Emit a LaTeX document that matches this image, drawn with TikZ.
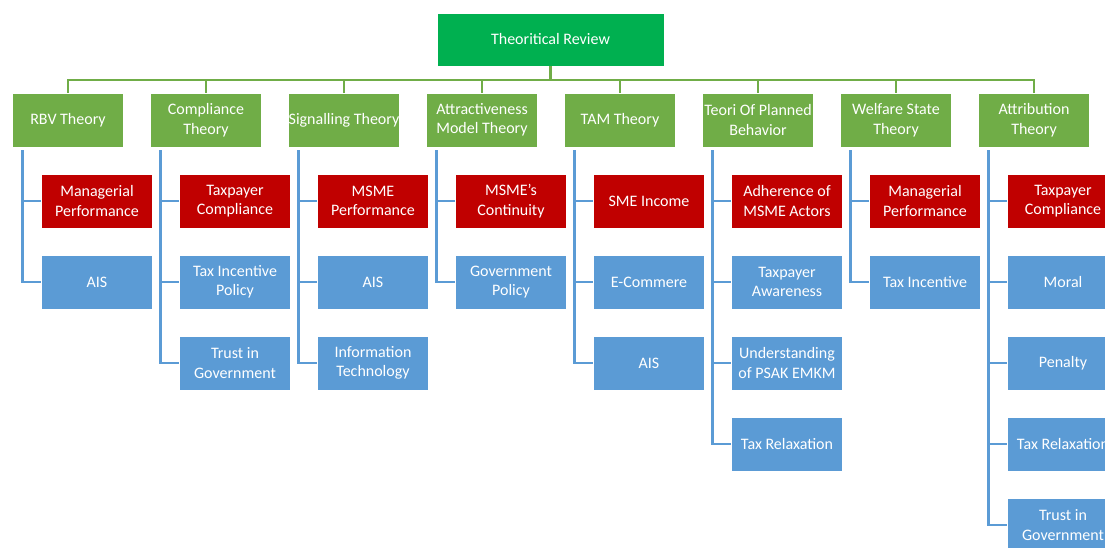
\documentclass[tikz,border=0pt]{standalone}
\usepackage{fontspec}
\setmainfont{Carlito}
\usetikzlibrary{positioning}
\definecolor{rootgreen}{HTML}{00B050}
\definecolor{theorygreen}{HTML}{70AD47}
\definecolor{outcomered}{HTML}{C00000}
\definecolor{factorblue}{HTML}{5B9BD5}
\tikzset{
  box/.style={draw=white, line width=0.8pt, text=white, minimum width=111pt,
    minimum height=54pt, inner sep=0pt, align=center,
    font=\fontsize{16}{19.5}\selectfont},
  root/.style={box, fill=rootgreen, minimum width=227pt, minimum height=53pt},
  theory/.style={box, fill=theorygreen},
  outcome/.style={box, fill=outcomered},
  factor/.style={box, fill=factorblue},
  bus/.style={draw=theorygreen, line width=2.5pt},
  link/.style={draw=factorblue, line width=2.5pt}
}
\begin{document}
\begin{tikzpicture}[x=1pt,y=-1pt]
\useasboundingbox (0,0) rectangle (1105,548);
\node[root] (review) at (550.5,39.5) {Theoritical Review};
\coordinate (hub) at (550.5,80);
% theories
\node[theory] (rbv) at (68,120) {RBV Theory};
\node[theory] (comp) at (206,120) {Compliance\\Theory};
\node[theory] (sig) at (344,120) {Signalling Theory};
\node[theory] (attr) at (482,120) {Attractiveness\\Model Theory};
\node[theory] (tam) at (620,120) {TAM Theory};
\node[theory] (tpb) at (758,120) {Teori Of Planned\\Behavior};
\node[theory] (wel) at (896,120) {Welfare State\\Theory};
\node[theory] (att) at (1034,120) {Attribution\\Theory};
\draw[bus] (review) -- (hub);
\foreach \t in {rbv,comp,sig,attr,tam,tpb,wel,att}
  \draw[bus] (hub) -| (\t.north);
% RBV
\node[outcome] (rbv-1) at (97,201) {Managerial\\Performance};
\node[factor] (rbv-2) at (97,282) {AIS};
% Compliance
\node[outcome] (comp-1) at (235,201) {Taxpayer\\Compliance};
\node[factor] (comp-2) at (235,282) {Tax Incentive\\Policy};
\node[factor] (comp-3) at (235,363) {Trust in\\Government};
% Signalling
\node[outcome] (sig-1) at (373,201) {MSME\\Performance};
\node[factor] (sig-2) at (373,282) {AIS};
\node[factor] (sig-3) at (373,363) {Information\\Technology};
% Attractiveness
\node[outcome] (attr-1) at (511,201) {MSME’s\\Continuity};
\node[factor] (attr-2) at (511,282) {Government\\Policy};
% TAM
\node[outcome] (tam-1) at (649,201) {SME Income};
\node[factor] (tam-2) at (649,282) {E-Commere};
\node[factor] (tam-3) at (649,363) {AIS};
% Planned behavior
\node[outcome] (tpb-1) at (787,201) {Adherence of\\MSME Actors};
\node[factor] (tpb-2) at (787,282) {Taxpayer\\Awareness};
\node[factor] (tpb-3) at (787,363) {Understanding\\of PSAK EMKM};
\node[factor] (tpb-4) at (787,444) {Tax Relaxation};
% Welfare state
\node[outcome] (wel-1) at (925,201) {Managerial\\Performance};
\node[factor] (wel-2) at (925,282) {Tax Incentive};
% Attribution
\node[outcome] (att-1) at (1063,201) {Taxpayer\\Compliance};
\node[factor] (att-2) at (1063,282) {Moral};
\node[factor] (att-3) at (1063,363) {Penalty};
\node[factor] (att-4) at (1063,444) {Tax Relaxation};
\node[factor] (att-5) at (1063,525) {Trust in\\Government};
% links
\foreach \t/\n in {rbv/2,comp/3,sig/3,attr/2,tam/3,tpb/4,wel/2,att/5}
  \foreach \k in {1,...,\n}
    \draw[link] ([xshift=-45.5pt,yshift=-3pt]\t.south) |- (\t-\k.west);
\end{tikzpicture}
\end{document}
